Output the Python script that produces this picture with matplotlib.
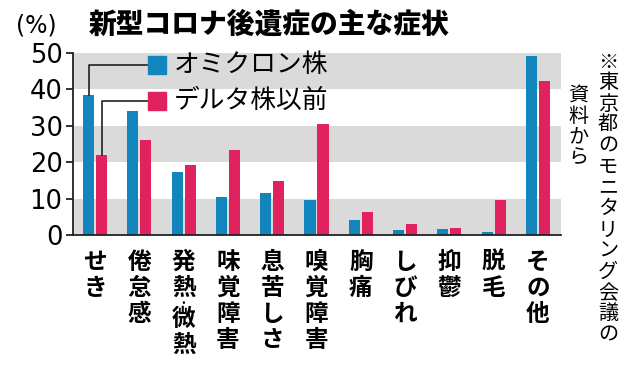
import matplotlib
matplotlib.use("Agg")
import matplotlib.pyplot as plt
import numpy as np

plt.rcParams['font.family'] = ['Noto Sans CJK JP', 'DejaVu Sans']

categories = ["せき", "倦怠感", "発熱・微熱", "味覚障害", "息苦しさ", "嗅覚障害",
              "胸痛", "しびれ", "抑鬱", "脱毛", "その他"]
omicron = [38.5, 34.1, 17.3, 10.5, 11.4, 9.5, 4.0, 1.4, 1.6, 0.8, 49.2]
delta = [22.0, 26.0, 19.1, 23.4, 14.9, 30.4, 6.3, 3.0, 1.9, 9.5, 42.3]
series_names = ["オミクロン株", "デルタ株以前"]
yticks = [0, 10, 20, 30, 40, 50]
title = "新型コロナ後遺症の主な症状"
note_col1 = "※東京都のモニタリング会議の"
note_col2 = "資料から"

BLUE = "#1385bd"
PINK = "#e0225f"
GREY = "#dadada"

W, H = 640, 365
fig = plt.figure(figsize=(W / 100, H / 100), dpi=100)
ax = fig.add_axes([73 / W, 1 - 235 / H, (561 - 73) / W, (235 - 52.7) / H])

x = np.arange(len(categories))
bw = 0.25
off = 0.147
ax.set_xlim(-0.497, 10.52)
ax.set_ylim(0, 50)
for lo in (0, 20, 40):
    ax.axhspan(lo, lo + 10, color=GREY, lw=0, zorder=0)

ax.bar(x - off, omicron, bw, color=BLUE, zorder=2)
ax.bar(x + off, delta, bw, color=PINK, zorder=2)

for s in ("top", "right"):
    ax.spines[s].set_visible(False)
for s in ("left", "bottom"):
    ax.spines[s].set_linewidth(1.3)
    ax.spines[s].set_color("#222222")
ax.set_xticks([])
ax.set_yticks(yticks)
ax.set_yticklabels([str(v) for v in yticks], family="DejaVu Sans", fontsize=18.5)
ax.tick_params(axis="y", length=5, width=1.3, pad=2.5, color="#222222")

# legend with leader lines
leg_y = [0.935, 0.735]
sq_x = 0.173
for i, (name, col, vals, sgn) in enumerate(zip(series_names, (BLUE, PINK), (omicron, delta), (-1, 1))):
    ax.plot([sq_x], [leg_y[i]], marker="s", ms=12.5, color=col, transform=ax.transAxes,
            zorder=4, clip_on=False)
    ax.text(0.207, leg_y[i], name, transform=ax.transAxes, fontsize=18.5, va="center",
            ha="left", zorder=4)
    bx = x[0] + sgn * off
    ly = ax.transData.inverted().transform(ax.transAxes.transform((0, leg_y[i])))[1]
    sq_left = ax.transData.inverted().transform(ax.transAxes.transform((0.156, 0)))[0]
    ax.plot([bx, bx, sq_left], [vals[0], ly, ly], color="#222222", lw=1.2, zorder=3)

# vertical category labels (centre-based stacking)
def vtext_axes(xd, s, step_pt, fs, first_pt, **kw):
    y = first_pt
    prev_small = False
    for j, ch in enumerate(s):
        small = ch == "・"
        if j > 0:
            y -= step_pt * (0.6 if (small or prev_small) else 1.0)
        ax.annotate(ch, xy=(xd, 0), xycoords=("data", "axes fraction"),
                    xytext=(0, y), textcoords="offset points",
                    ha="center", va="center", fontsize=(7 if small else fs),
                    annotation_clip=False, **kw)
        prev_small = small

for i, c in enumerate(categories):
    vtext_axes(x[i], c, 18.7, 17, -19.5, fontweight="bold")

# title and unit
fig.text(269 / W, 1 - 25 / H, title, ha="center", va="center", fontsize=20, fontweight="black")
fig.text(36 / W, 1 - 25 / H, "(%)", ha="center", va="center", fontsize=17, family="DejaVu Sans")

# right side note (vertical)
def vtext_fig(xp, yc, s, step_px, fs):
    for j, ch in enumerate(s):
        fig.text(xp / W, 1 - (yc + j * step_px) / H, ch, ha="center", va="center",
                 fontsize=fs)

vtext_fig(608, 62, note_col1, 21, 14.5)
vtext_fig(578, 95, note_col2, 21, 14.5)

fig.savefig("out.png", dpi=100)
